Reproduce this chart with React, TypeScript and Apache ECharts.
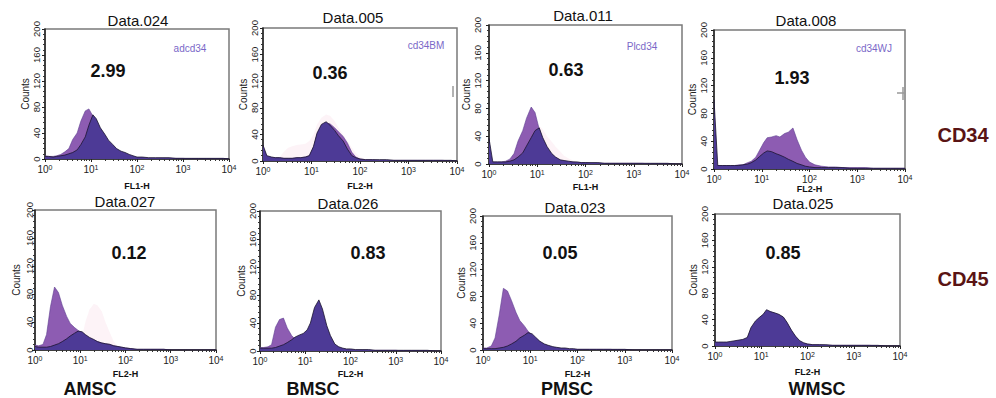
import React, { useEffect, useRef } from 'react';
import * as echarts from 'echarts';

// Fluorescence channel positions (log scale, 10^0 .. 10^4)
const CHANNELS = [1, 1.2, 1.5, 1.8, 2.2, 2.7, 3.3, 4, 5, 6, 7.5, 9, 11, 13, 16, 20, 24, 30, 36, 45, 55, 68, 82, 100, 130, 180, 250, 350, 500, 700, 1000, 1500, 2200, 3300, 5000, 7500, 10000];

// Top row: CD34
const P1_LIGHT = [5, 4, 4, 5, 7, 11, 16, 30, 40, 58, 74, 77, 66, 50, 36, 26, 19, 14, 10, 8, 6, 4, 3, 2, 2, 1, 1, 1, 1, 1, 1, 0, 0, 0, 0, 0, 0];
const P1_DARK = [4, 4, 3, 4, 5, 6, 8, 10, 14, 22, 34, 52, 68, 62, 48, 38, 29, 22, 16, 12, 10, 7, 5, 3, 3, 2, 2, 2, 2, 1, 1, 1, 1, 1, 1, 1, 0];

const P2_PINK = [0, 0, 1, 3, 6, 14, 20, 22, 24, 25, 26, 30, 40, 55, 65, 70, 68, 60, 50, 40, 30, 20, 12, 6, 3, 1, 0, 0, 0, 0, 0, 0, 0, 0, 0, 0, 0];
const P2_LIGHT = [20, 7, 5, 5, 5, 4, 4, 4, 5, 5, 6, 8, 20, 40, 53, 57, 56, 50, 44, 37, 27, 13, 6, 3, 2, 2, 1, 1, 1, 1, 1, 1, 1, 1, 1, 0, 0];
const P2_DARK = [24, 8, 6, 5, 5, 4, 4, 4, 5, 5, 6, 8, 22, 42, 55, 59, 54, 46, 38, 30, 18, 8, 5, 3, 2, 2, 2, 2, 1, 1, 1, 1, 1, 1, 1, 1, 0];

const P3_PINK = [0, 0, 0, 0, 0, 0, 0, 0, 0, 0, 0, 40, 55, 50, 40, 32, 25, 18, 12, 8, 5, 3, 1, 0, 0, 0, 0, 0, 0, 0, 0, 0, 0, 0, 0, 0, 0];
const P3_LIGHT = [3, 3, 3, 3, 4, 7, 15, 33, 48, 66, 82, 74, 50, 34, 22, 13, 8, 5, 4, 3, 3, 2, 2, 2, 1, 1, 1, 1, 1, 1, 1, 1, 0, 0, 0, 0, 0];
const P3_DARK = [37, 3, 3, 3, 3, 4, 6, 10, 16, 26, 38, 48, 52, 38, 25, 15, 10, 6, 5, 4, 3, 3, 2, 2, 2, 2, 1, 1, 1, 1, 1, 1, 1, 1, 1, 0, 0];

const P4_LIGHT = [5, 5, 5, 5, 5, 5, 6, 6, 9, 11, 17, 27, 38, 45, 46, 48, 46, 51, 53, 59, 42, 27, 17, 10, 6, 4, 3, 3, 2, 2, 2, 2, 1, 1, 1, 1, 1];
const P4_DARK = [100, 5, 5, 5, 5, 5, 5, 6, 7, 9, 13, 18, 23, 26, 25, 22, 20, 17, 14, 11, 8, 6, 4, 3, 2, 2, 2, 2, 2, 1, 1, 1, 1, 1, 1, 1, 1];

// Bottom row: CD45
const P5_PINK = [0, 0, 0, 0, 0, 0, 0, 0, 0, 0, 0, 5, 20, 40, 58, 66, 64, 55, 40, 25, 12, 5, 2, 0, 0, 0, 0, 0, 0, 0, 0, 0, 0, 0, 0, 0, 0];
const P5_LIGHT = [7, 6, 8, 22, 62, 90, 82, 64, 48, 38, 32, 28, 24, 20, 17, 14, 12, 10, 9, 8, 6, 5, 4, 3, 2, 1, 1, 1, 1, 1, 0, 0, 0, 0, 0, 0, 0];
const P5_DARK = [5, 4, 4, 4, 5, 7, 9, 12, 16, 20, 24, 27, 26, 22, 18, 15, 12, 10, 9, 8, 6, 5, 4, 3, 2, 1, 1, 1, 1, 1, 0, 0, 0, 0, 0, 0, 0];

const P6_LIGHT = [5, 5, 6, 9, 34, 45, 47, 33, 22, 17, 15, 14, 14, 15, 18, 20, 18, 14, 10, 6, 4, 3, 2, 2, 1, 1, 1, 1, 1, 1, 1, 0, 0, 0, 0, 0, 0];
const P6_DARK = [4, 4, 4, 4, 5, 7, 9, 12, 16, 20, 23, 25, 30, 40, 62, 73, 60, 36, 22, 10, 6, 4, 3, 3, 2, 2, 2, 1, 1, 1, 1, 1, 1, 1, 1, 0, 0];

const P7_LIGHT = [3, 3, 6, 18, 52, 92, 88, 74, 56, 44, 36, 28, 22, 17, 12, 8, 6, 4, 3, 2, 2, 1, 1, 1, 1, 1, 1, 1, 1, 0, 0, 0, 0, 0, 0, 0, 0];
const P7_DARK = [2, 2, 2, 2, 3, 4, 6, 9, 13, 18, 22, 26, 24, 19, 13, 9, 7, 5, 4, 3, 3, 2, 2, 1, 1, 1, 1, 1, 1, 1, 1, 0, 0, 0, 0, 0, 0];

const P8_LIGHT = [5, 5, 5, 5, 6, 7, 8, 9, 12, 26, 36, 42, 47, 53, 52, 49, 47, 43, 35, 23, 14, 7, 4, 3, 2, 2, 1, 1, 1, 1, 1, 1, 1, 0, 0, 0, 0];
const P8_DARK = [6, 6, 6, 6, 7, 8, 9, 10, 13, 28, 38, 43, 48, 55, 52, 50, 48, 44, 36, 24, 15, 8, 5, 3, 2, 2, 2, 1, 1, 1, 1, 1, 1, 1, 0, 0, 0];

const PANEL_TITLES = ['Data.024', 'Data.005', 'Data.011', 'Data.008', 'Data.027', 'Data.026', 'Data.023', 'Data.025'];
const PERCENTS = ['2.99', '0.36', '0.63', '1.93', '0.12', '0.83', '0.05', '0.85'];
const SAMPLE_TAGS = ['adcd34', 'cd34BM', 'Plcd34', 'cd34WJ'];
const X_NAMES = ['FL1-H', 'FL2-H', 'FL1-H', 'FL2-H', 'FL2-H', 'FL2-H', 'FL2-H', 'FL2-H'];
const ROW_LABELS = ['CD34', 'CD45'];
const COLUMN_LABELS = ['AMSC', 'BMSC', 'PMSC', 'WMSC'];
const Y_TICKS = { min: 0, max: 200, interval: 40 };

const SERIES_DATA = [
  { pink: null, light: P1_LIGHT, dark: P1_DARK },
  { pink: P2_PINK, light: P2_LIGHT, dark: P2_DARK },
  { pink: P3_PINK, light: P3_LIGHT, dark: P3_DARK },
  { pink: null, light: P4_LIGHT, dark: P4_DARK },
  { pink: P5_PINK, light: P5_LIGHT, dark: P5_DARK },
  { pink: null, light: P6_LIGHT, dark: P6_DARK },
  { pink: null, light: P7_LIGHT, dark: P7_DARK },
  { pink: null, light: P8_LIGHT, dark: P8_DARK },
];

// Layout (positions, not data)
const LAYOUT = [
  { left: 45, top: 29, width: 184, height: 130, tx: 138, ty: 20, nx: 108, ny: 71, gx: 190, gy: 48, nameGap: 22, labM: 4, countsGap: 13 },
  { left: 263, top: 28, width: 194, height: 133, tx: 353, ty: 17, nx: 330, ny: 73, gx: 426, gy: 45, nameGap: 20, labM: 4, countsGap: 15 },
  { left: 489, top: 25, width: 193, height: 139, tx: 583, ty: 15, nx: 566, ny: 70, gx: 642, gy: 46, nameGap: 18, labM: 7, countsGap: 12 },
  { left: 714, top: 30, width: 191, height: 139, tx: 806, ty: 20, nx: 792, ny: 78, gx: 874, gy: 48, nameGap: 12, labM: 6, countsGap: 16 },
  { left: 35, top: 210, width: 181, height: 140, tx: 125, ty: 201, nx: 129, ny: 253, gx: 0, gy: 0, nameGap: 19, labM: 1, countsGap: 14 },
  { left: 260, top: 211, width: 181, height: 140, tx: 348, ty: 203, nx: 368, ny: 253, gx: 0, gy: 0, nameGap: 18, labM: 3, countsGap: 14 },
  { left: 483, top: 216, width: 189, height: 134, tx: 575, ty: 207, nx: 560, ny: 253, gx: 0, gy: 0, nameGap: 19, labM: 6, countsGap: 13 },
  { left: 715, top: 214, width: 185, height: 132, tx: 803, ty: 203, nx: 783, ny: 253, gx: 0, gy: 0, nameGap: 21, labM: 6, countsGap: 14 },
];
const ROW_POS = [{ x: 963, y: 135 }, { x: 963, y: 279 }];
const COL_POS = [{ x: 90, y: 389 }, { x: 313, y: 389 }, { x: 567, y: 389 }, { x: 817, y: 389 }];

const FONT = 'Liberation Sans, Arial, Helvetica, sans-serif';
const LIGHT = '#8d5cb2';
const DARK = '#4d3a96';
const PINK = '#fbeaf1';

function pts(ys: number[]) {
  return CHANNELS.map((x, i) => [x, ys[i]]);
}

function buildOption() {
  const grid: any[] = [];
  const xAxis: any[] = [];
  const yAxis: any[] = [];
  const series: any[] = [];
  const graphic: any[] = [];

  LAYOUT.forEach((L, i) => {
    grid.push({
      left: L.left, top: L.top, width: L.width, height: L.height,
      show: true, borderColor: '#7a7a7a', borderWidth: 1.5, backgroundColor: 'transparent',
    });
    xAxis.push({
      type: 'log', logBase: 10, min: 1, max: 10000, splitNumber: 4, gridIndex: i,
      name: X_NAMES[i], nameLocation: 'middle', nameGap: L.nameGap,
      nameTextStyle: { fontSize: 9, fontWeight: 'bold', color: '#111', fontFamily: FONT },
      axisLine: { show: true, lineStyle: { color: '#222', width: 1.5 } },
      axisTick: { show: true, length: 3, lineStyle: { color: '#222' } },
      minorTick: { show: true, splitNumber: 9, length: 2, lineStyle: { color: '#333' } },
      splitLine: { show: false },
      axisLabel: {
        margin: 5, color: '#222', fontSize: 10, fontFamily: FONT,
        formatter: (v: number) => '10{s|' + Math.round(Math.log10(v)) + '}',
        rich: { s: { fontSize: 7, verticalAlign: 'top', fontFamily: FONT, color: '#222' } },
      },
    });
    yAxis.push({
      type: 'value', gridIndex: i, min: Y_TICKS.min, max: Y_TICKS.max, interval: Y_TICKS.interval,
      name: 'Counts', nameLocation: 'middle', nameGap: L.countsGap,
      nameTextStyle: { fontSize: 10, color: '#222', fontFamily: FONT },
      axisLine: { show: true, lineStyle: { color: '#222', width: 1.5 } },
      axisTick: { show: true, length: 3, lineStyle: { color: '#222' } },
      minorTick: { show: true, splitNumber: 5, length: 2, lineStyle: { color: '#333' } },
      splitLine: { show: false },
      axisLabel: { rotate: 90, margin: L.labM, color: '#222', fontSize: 9.5, fontFamily: FONT },
    });

    const d = SERIES_DATA[i];
    if (d.pink) {
      series.push({
        type: 'line', xAxisIndex: i, yAxisIndex: i, data: pts(d.pink), symbol: 'none', silent: true,
        lineStyle: { width: 0, opacity: 0 }, areaStyle: { color: PINK, opacity: 0.55 }, z: 1,
      });
    }
    series.push({
      type: 'line', xAxisIndex: i, yAxisIndex: i, data: pts(d.light), symbol: 'none', silent: true,
      lineStyle: { color: '#5e4090', width: 0.6 }, areaStyle: { color: LIGHT, opacity: 1 }, z: 2,
    });
    series.push({
      type: 'line', xAxisIndex: i, yAxisIndex: i, data: pts(d.dark), symbol: 'none', silent: true,
      lineStyle: { color: '#1c1530', width: 0.8 }, areaStyle: { color: DARK, opacity: 1 }, z: 3,
    });

    graphic.push({
      type: 'text', x: L.tx, y: L.ty,
      style: { text: PANEL_TITLES[i], fontSize: 15, fontFamily: FONT, fill: '#111', align: 'center', verticalAlign: 'middle' },
    });
    graphic.push({
      type: 'text', x: L.nx, y: L.ny,
      style: { text: PERCENTS[i], fontSize: 18, fontWeight: 'bold', fontFamily: FONT, fill: '#111', align: 'center', verticalAlign: 'middle' },
    });
    if (i < 4) {
      graphic.push({
        type: 'text', x: L.gx, y: L.gy,
        style: { text: SAMPLE_TAGS[i], fontSize: 10, fontFamily: FONT, fill: '#7a68c8', align: 'center', verticalAlign: 'middle' },
      });
    }
  });

  ROW_LABELS.forEach((t, i) => {
    graphic.push({
      type: 'text', x: ROW_POS[i].x, y: ROW_POS[i].y,
      style: { text: t, fontSize: 20, fontWeight: 'bold', fontFamily: FONT, fill: '#5a1414', align: 'center', verticalAlign: 'middle' },
    });
  });
  COLUMN_LABELS.forEach((t, i) => {
    graphic.push({
      type: 'text', x: COL_POS[i].x, y: COL_POS[i].y,
      style: { text: t, fontSize: 18, fontWeight: 'bold', fontFamily: FONT, fill: '#111', align: 'center', verticalAlign: 'middle' },
    });
  });

  // small gate markers on the right frames of the top row
  graphic.push({ type: 'line', shape: { x1: 453, y1: 86, x2: 453, y2: 97 }, style: { stroke: '#999', lineWidth: 1.5 } });
  graphic.push({ type: 'line', shape: { x1: 897, y1: 93, x2: 906, y2: 93 }, style: { stroke: '#999', lineWidth: 1.5 } });
  graphic.push({ type: 'line', shape: { x1: 903, y1: 87, x2: 903, y2: 100 }, style: { stroke: '#999', lineWidth: 1.5 } });

  return {
    animation: false,
    backgroundColor: '#ffffff',
    grid, xAxis, yAxis, series, graphic,
  };
}

export default function App() {
  const ref = useRef<HTMLDivElement>(null);
  useEffect(() => {
    document.body.style.margin = '0';
    const chart = echarts.init(ref.current as HTMLDivElement, null, { renderer: 'svg' });
    chart.setOption(buildOption() as any);
    return () => chart.dispose();
  }, []);
  return <div ref={ref} style={{ width: 996, height: 398 }} />;
}
